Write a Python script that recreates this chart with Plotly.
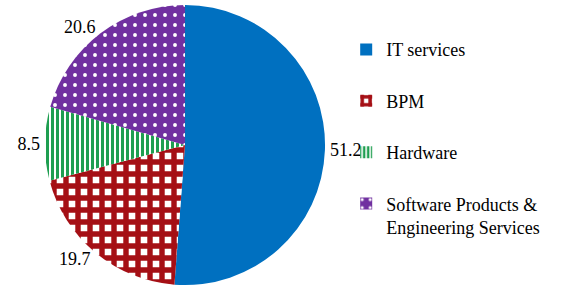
import plotly.graph_objects as go

categories = ["IT services", "BPM", "Hardware", "Software Products &<br>Engineering Services"]
values = [51.2, 19.7, 8.5, 20.6]
value_labels = ["51.2", "19.7", "8.5", "20.6"]

bg_colors = ["#0070C0", "#FFFFFF", "#FFFFFF", "#7030A0"]
fg_colors = ["#0070C0", "#A50F15", "#1E9E50", "#FFFFFF"]
shapes = ["", "+", "|", "."]
sizes = [8, 12, 5, 10]
solidities = [0.3, 0.7, 0.6, 0.12]

FONT = "Times New Roman"

fig = go.Figure()
fig.add_trace(go.Pie(
    labels=categories,
    values=values,
    text=value_labels,
    textinfo="text",
    textposition="outside",
    sort=False,
    direction="clockwise",
    rotation=0,
    showlegend=False,
    marker=dict(
        colors=bg_colors,
        line=dict(width=0),
        pattern=dict(shape=shapes, fgcolor=fg_colors, bgcolor=bg_colors,
                     size=sizes, solidity=solidities, fillmode="replace"),
    ),
    textfont=dict(family=FONT, size=18, color="#000000"),
    domain=dict(x=[0.0783, 0.580], y=[0.0306, 0.9898]),
))

for i, cat in enumerate(categories):
    fig.add_trace(go.Bar(
        x=[None], y=[None], name=cat, legendgroup=f"g{i}",
        marker=dict(color=bg_colors[i], line=dict(width=0),
                    pattern=dict(shape=shapes[i], fgcolor=fg_colors[i], bgcolor=bg_colors[i],
                                 size=sizes[i], solidity=solidities[i], fillmode="replace")),
        showlegend=True,
    ))

fig.update_layout(
    width=562, height=294,
    margin=dict(l=0, r=0, t=0, b=0),
    paper_bgcolor="white", plot_bgcolor="white",
    font=dict(family=FONT),
    xaxis=dict(visible=False, domain=[0.99, 1.0]),
    yaxis=dict(visible=False, domain=[0.99, 1.0]),
    showlegend=True,
    legend=dict(
        x=0.616, xanchor="left", y=0.90, yanchor="top",
        font=dict(family=FONT, size=18, color="#000000"),
        tracegroupgap=25, valign="top", itemsizing="constant",
        bgcolor="rgba(0,0,0,0)",
    ),
)

fig.write_html("out.html")
